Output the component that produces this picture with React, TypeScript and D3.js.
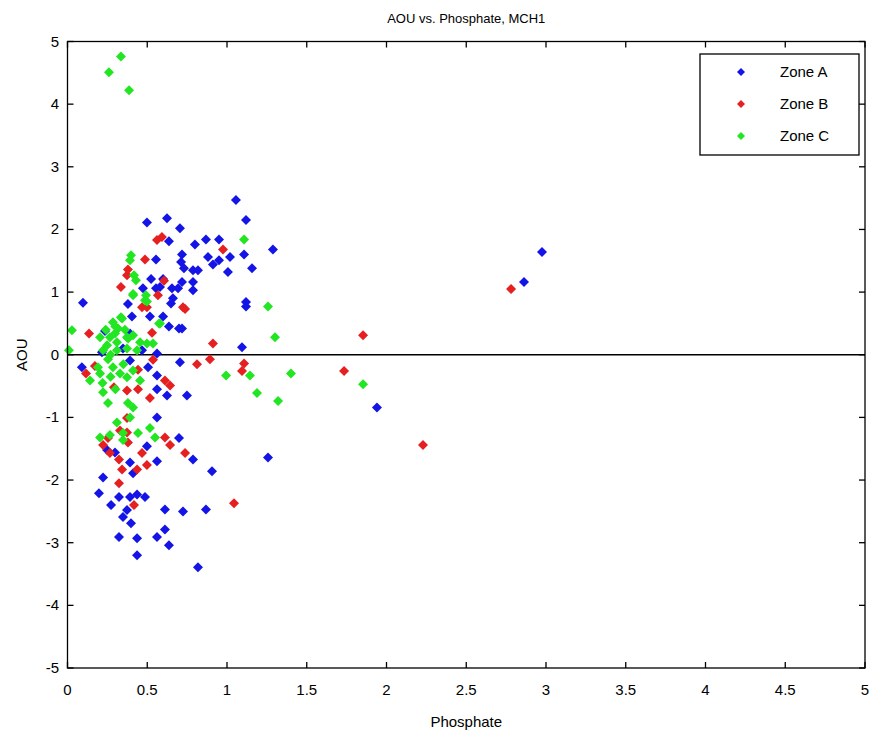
import React from "react";
import * as d3 from "d3";

// Zone A (blue) points [Phosphate, AOU]
const zoneA: [number, number][] = [
  [0.097, 0.83], [0.09, -0.2], [1.056, 2.47], [1.119, 2.15], [0.624, 2.18], [0.498, 2.11], [0.705, 2.02],
  [1.288, 1.68], [0.799, 1.76], [0.868, 1.84], [0.95, 1.84], [0.881, 1.56], [0.95, 1.51], [0.912, 1.44],
  [1.019, 1.56], [1.107, 1.6], [1.157, 1.38], [1.006, 1.32], [0.718, 1.6], [0.712, 1.48], [0.73, 1.38],
  [0.787, 1.35], [0.818, 1.35], [0.718, 1.16], [0.787, 1.16], [0.787, 1.03], [1.119, 0.84], [1.119, 0.77],
  [0.636, 1.81], [0.555, 1.52], [0.524, 1.21], [0.599, 1.21], [0.473, 1.06], [0.555, 1.06], [0.58, 1.08],
  [0.655, 1.06], [0.693, 1.06], [0.661, 0.9], [0.379, 0.81], [0.649, 0.82], [0.404, 0.61], [0.517, 0.61],
  [0.599, 0.61], [0.636, 0.45], [0.699, 0.42], [0.235, 0.38], [0.392, 0.34], [0.216, 0.04], [0.392, -0.09],
  [0.561, 0.02], [0.705, -0.12], [0.505, -0.2], [0.561, -0.33], [0.561, -0.55], [0.624, -0.65], [0.561, -1.0],
  [0.348, 0.1], [0.467, 0.07], [0.718, 0.42], [1.094, 0.12], [0.749, -0.65],
  [0.248, -1.52], [0.298, -1.56], [0.699, -1.33], [0.498, -1.46], [0.392, -1.72], [0.561, -1.7], [0.411, -1.89],
  [0.223, -1.96], [0.197, -2.21], [0.323, -2.27], [0.392, -2.27], [0.436, -2.23], [0.486, -2.27], [0.273, -2.4],
  [0.373, -2.48], [0.348, -2.59], [0.398, -2.69], [0.611, -2.47], [0.724, -2.5], [0.611, -2.79], [0.323, -2.91],
  [0.436, -2.93], [0.561, -2.91], [0.636, -3.04], [0.436, -3.2],
  [0.787, -1.67], [0.906, -1.86], [1.257, -1.64], [0.868, -2.47], [0.818, -3.39],
  [2.975, 1.64], [2.862, 1.16], [1.94, -0.84]
];

// Zone B (red) points
const zoneB: [number, number][] = [
  [0.561, 1.83], [0.592, 1.88], [0.975, 1.68], [0.486, 1.52], [0.379, 1.36], [0.373, 1.27], [0.605, 1.18],
  [0.335, 1.08], [0.567, 0.95], [0.467, 0.76], [0.498, 0.76], [0.724, 0.76], [0.737, 0.73], [0.135, 0.34],
  [0.53, 0.35], [0.172, -0.18], [0.116, -0.3], [0.442, -0.24], [0.536, -0.08], [0.611, -0.41], [0.643, -0.49],
  [0.517, -0.69], [0.291, -0.52], [0.373, -0.57], [0.442, -0.55], [0.373, -1.01], [0.912, 0.18], [0.893, -0.07],
  [0.812, -0.15], [1.107, -0.14], [1.094, -0.26], [1.853, 0.31], [1.734, -0.26], [2.229, -1.44], [2.781, 1.05],
  [1.044, -2.37], [0.737, -1.57], [0.329, -1.21], [0.373, -1.24], [0.254, -1.33], [0.223, -1.44], [0.379, -1.4],
  [0.611, -1.32], [0.643, -1.44], [0.266, -1.57], [0.323, -1.67], [0.467, -1.57], [0.498, -1.76], [0.342, -1.83],
  [0.436, -1.83], [0.323, -2.05], [0.417, -2.4]
];

// Zone C (green) points
const zoneC: [number, number][] = [
  [0.335, 4.76], [0.26, 4.51], [0.386, 4.22], [0.398, 1.59], [0.392, 1.51], [0.417, 1.27], [0.429, 1.19],
  [0.411, 0.95], [0.492, 0.95], [0.486, 0.87], [1.107, 1.84], [1.257, 0.77], [1.301, 0.28], [0.994, -0.33],
  [1.144, -0.33], [1.401, -0.3], [1.188, -0.61], [1.32, -0.74], [1.853, -0.47], [0.028, 0.39], [0.009, 0.07],
  [0.574, 0.5], [0.335, 0.6], [0.498, 0.85], [0.411, 0.97],
  [0.285, 0.52], [0.342, 0.58], [0.317, 0.42], [0.266, 0.28], [0.204, 0.28], [0.248, 0.15], [0.31, 0.2],
  [0.373, 0.28], [0.411, 0.31], [0.455, 0.2], [0.498, 0.18], [0.536, 0.18], [0.58, 0.5], [0.223, 0.07],
  [0.254, -0.07], [0.191, -0.2], [0.141, -0.41], [0.204, -0.3], [0.285, -0.2], [0.329, -0.3], [0.373, -0.36],
  [0.411, -0.25], [0.455, -0.41], [0.223, -0.6], [0.254, -0.77], [0.379, -0.77], [0.411, -0.84], [0.392, -1.0],
  [0.31, -1.08], [0.204, -1.32], [0.266, -1.28], [0.348, -1.36], [0.348, -1.25], [0.442, -1.25], [0.517, -1.17],
  [0.549, -1.32], [0.31, 0.07], [0.373, 0.1], [0.436, 0.07], [0.298, 0.34], [0.38, 0.26],
  [0.27, -0.35], [0.22, -0.45], [0.3, -0.55], [0.35, -0.15], [0.24, 0.4], [0.3, 0.45], [0.36, 0.4], [0.27, 0.0]
];

const xTicks = [0, 0.5, 1, 1.5, 2, 2.5, 3, 3.5, 4, 4.5, 5];
const yTicks = [5, 4, 3, 2, 1, 0, -1, -2, -3, -4, -5];
const zoneNames = ["Zone A", "Zone B", "Zone C"];
const zoneColors = ["#1414e6", "#e62020", "#22e622"];

export default function App() {
  const W = 871, H = 736;
  const left = 67.5, right = 865, top = 41.5, bottom = 668;
  const x = d3.scaleLinear().domain([0, 5]).range([left, right]);
  const y = d3.scaleLinear().domain([-5, 5]).range([bottom, top]);
  const diamond = (cx: number, cy: number, r: number) =>
    `M${cx},${cy - r}L${cx + r},${cy}L${cx},${cy + r}L${cx - r},${cy}Z`;
  const series = [zoneA, zoneB, zoneC];
  const font = "'Liberation Sans', Arial, sans-serif";
  const tl = 6;
  return (
    <svg width={W} height={H} style={{ position: "absolute", left: 0, top: 0, background: "#fff" }}>
      <rect x={0} y={0} width={W} height={H} fill="#fff" />
      <text x={(left + right) / 2} y={23} textAnchor="middle" fontFamily={font} fontSize={13}>
        AOU vs. Phosphate, MCH1
      </text>
      {/* zero line */}
      <line x1={x(0)} x2={x(5)} y1={y(0)} y2={y(0)} stroke="#000" strokeWidth={1.6} />
      {series.map((pts, si) => (
        <g key={si} fill={zoneColors[si]}>
          {pts.map((p, i) => (
            <path key={i} d={diamond(x(p[0]), y(p[1]), 5)} />
          ))}
        </g>
      ))}
      {/* axes box */}
      <rect x={left} y={top} width={right - left} height={bottom - top} fill="none" stroke="#000" strokeWidth={1.3} />
      {xTicks.map((t) => (
        <g key={"x" + t}>
          <line x1={x(t)} x2={x(t)} y1={bottom} y2={bottom - tl} stroke="#000" strokeWidth={1.3} />
          <line x1={x(t)} x2={x(t)} y1={top} y2={top + tl} stroke="#000" strokeWidth={1.3} />
          <text x={x(t)} y={695} textAnchor="middle" fontFamily={font} fontSize={15}>
            {String(t)}
          </text>
        </g>
      ))}
      {yTicks.map((t) => (
        <g key={"y" + t}>
          <line x1={left} x2={left + tl} y1={y(t)} y2={y(t)} stroke="#000" strokeWidth={1.3} />
          <line x1={right} x2={right - tl} y1={y(t)} y2={y(t)} stroke="#000" strokeWidth={1.3} />
          <text x={59} y={y(t) + 5} textAnchor="end" fontFamily={font} fontSize={15}>
            {String(t)}
          </text>
        </g>
      ))}
      <text x={(left + right) / 2} y={727} textAnchor="middle" fontFamily={font} fontSize={15}>
        Phosphate
      </text>
      <text transform={`translate(27,${y(0)}) rotate(-90)`} textAnchor="middle" fontFamily={font} fontSize={15}>
        AOU
      </text>
      {/* legend */}
      <rect x={700} y={54} width={159} height={101} fill="#fff" stroke="#000" strokeWidth={1.3} />
      {zoneNames.map((n, i) => (
        <g key={n}>
          <path d={diamond(741, 72 + i * 32, 4)} fill={zoneColors[i]} />
          <text x={780} y={72 + i * 32 + 5} fontFamily={font} fontSize={15}>
            {n}
          </text>
        </g>
      ))}
    </svg>
  );
}
